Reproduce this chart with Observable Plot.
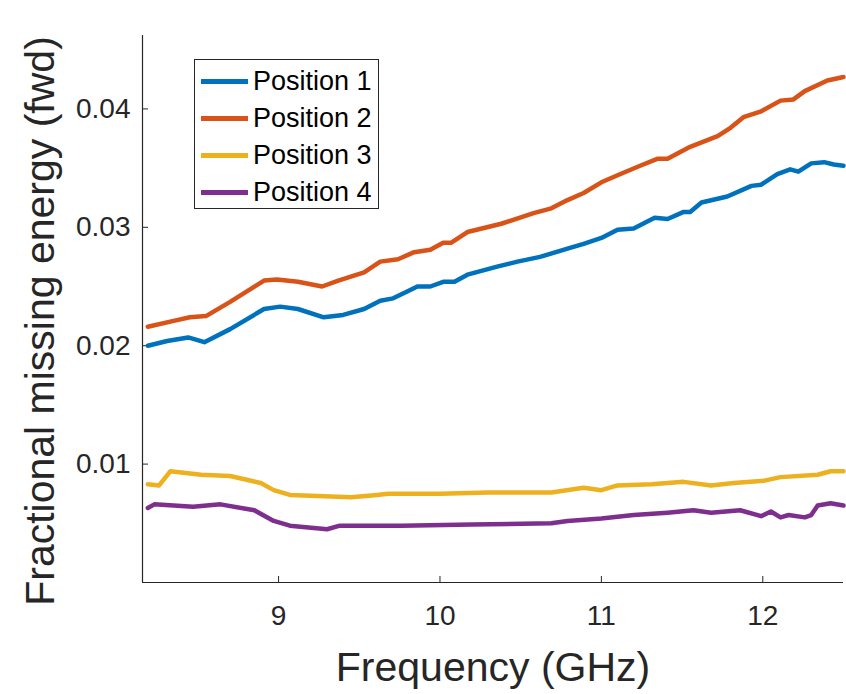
<!DOCTYPE html>
<html><head><meta charset="utf-8">
<script src="https://cdn.jsdelivr.net/npm/d3@7"></script>
<script src="https://cdn.jsdelivr.net/npm/@observablehq/plot@0.6"></script>
<style>
body{margin:0;background:#fff;}
#wrap{position:relative;width:846px;height:694px;font-family:"Liberation Sans",Arial,sans-serif;}
#legend{position:absolute;left:194px;top:59px;width:185px;height:150px;border:1px solid #262626;background:#fff;box-sizing:border-box;}
.row{position:absolute;left:0;height:30px;display:flex;align-items:center;}
.sw{width:47px;height:5px;margin-left:6px;margin-right:5px;}
.lab{font-size:27px;color:#000;line-height:30px;}
</style></head><body><div id="wrap"></div>
<script>
const seriesNames = ["Position 1", "Position 2", "Position 3", "Position 4"];
const seriesColors = ["#0072BD", "#D95319", "#EDB120", "#7E2F8E"];
const xTicks = [9, 10, 11, 12];
const yTicks = [0.01, 0.02, 0.03, 0.04];
const xDomain = [8.157, 12.5];
const yDomain = [0, 0.0462];

const freqP1 = [8.19,8.31,8.44,8.54,8.70,8.91,9.01,9.12,9.28,9.40,9.53,9.63,9.71,9.80,9.86,9.94,10.02,10.09,10.17,10.36,10.48,10.62,10.79,10.89,11.00,11.10,11.20,11.33,11.41,11.51,11.55,11.62,11.78,11.93,11.99,12.09,12.17,12.22,12.30,12.38,12.44,12.50];
const valP1 = [0.0200,0.0204,0.0207,0.0203,0.0214,0.0231,0.0233,0.0231,0.0224,0.0226,0.0231,0.0238,0.0240,0.0246,0.0250,0.0250,0.0254,0.0254,0.0260,0.0267,0.0271,0.0275,0.0282,0.0286,0.0291,0.0298,0.0299,0.0308,0.0307,0.0313,0.0313,0.0321,0.0326,0.0335,0.0336,0.0345,0.0349,0.0347,0.0354,0.0355,0.0353,0.0352];

const freqP2 = [8.19,8.35,8.45,8.55,8.70,8.91,8.99,9.12,9.27,9.37,9.53,9.63,9.74,9.84,9.94,10.02,10.07,10.17,10.38,10.58,10.69,10.79,10.89,11.00,11.10,11.24,11.35,11.41,11.55,11.72,11.80,11.88,11.99,12.11,12.19,12.26,12.40,12.50];
const valP2 = [0.0216,0.0221,0.0224,0.0225,0.0237,0.0255,0.0256,0.0254,0.0250,0.0255,0.0262,0.0271,0.0273,0.0279,0.0281,0.0287,0.0287,0.0296,0.0303,0.0312,0.0316,0.0323,0.0329,0.0338,0.0344,0.0352,0.0358,0.0358,0.0368,0.0377,0.0384,0.0393,0.0398,0.0407,0.0408,0.0415,0.0424,0.0427];

const freqP3 = [8.19,8.26,8.33,8.52,8.70,8.89,8.97,9.07,9.24,9.45,9.61,9.68,9.76,10.00,10.30,10.69,10.89,11.00,11.10,11.31,11.51,11.68,11.82,12.01,12.11,12.34,12.42,12.50];
const valP3 = [0.0083,0.0082,0.0094,0.0091,0.0090,0.0084,0.0078,0.0074,0.0073,0.0072,0.0074,0.0075,0.0075,0.0075,0.0076,0.0076,0.0080,0.0078,0.0082,0.0083,0.0085,0.0082,0.0084,0.0086,0.0089,0.0091,0.0094,0.0094];

const freqP4 = [8.19,8.23,8.47,8.64,8.85,8.97,9.07,9.30,9.38,9.55,9.76,10.20,10.69,10.79,11.00,11.20,11.41,11.57,11.68,11.86,11.99,12.05,12.11,12.16,12.26,12.30,12.34,12.42,12.50];
const valP4 = [0.0063,0.0066,0.0064,0.0066,0.0061,0.0052,0.0048,0.0045,0.0048,0.0048,0.0048,0.0049,0.0050,0.0052,0.0054,0.0057,0.0059,0.0061,0.0059,0.0061,0.0056,0.0060,0.0055,0.0057,0.0055,0.0057,0.0065,0.0067,0.0065];

const freqs = [freqP1, freqP2, freqP3, freqP4];
const vals = [valP1, valP2, valP3, valP4];
const rows = [];
seriesNames.forEach((name, i) => {
  freqs[i].forEach((f, j) => rows.push({series: name, freq: f, value: vals[i][j]}));
});

const axisColor = "#262626";
const chart = Plot.plot({
  width: 846,
  height: 694,
  marginLeft: 142,
  marginRight: 3,
  marginTop: 35,
  marginBottom: 112,
  style: {fontFamily: '"Liberation Sans", Arial, sans-serif', color: axisColor, background: "#fff", overflow: "visible"},
  x: {domain: xDomain},
  y: {domain: yDomain},
  color: {domain: seriesNames, range: seriesColors},
  marks: [
    Plot.ruleY([yDomain[0]], {stroke: axisColor, strokeWidth: 1.2}),
    Plot.ruleX([xDomain[0]], {stroke: axisColor, strokeWidth: 1.2}),
    Plot.axisX({ticks: xTicks, tickSize: -6, tickPadding: 29, fontSize: 28, label: null, tickFormat: d => String(d), stroke: axisColor, fill: axisColor}),
    Plot.axisY({ticks: yTicks, tickSize: -6, tickPadding: 18, fontSize: 28, label: null, tickFormat: d3.format(".2f"), stroke: axisColor, fill: axisColor}),
    Plot.line(rows, {x: "freq", y: "value", z: "series", stroke: "series", strokeWidth: 4.5, strokeLinejoin: "round", strokeLinecap: "round"}),
    Plot.text(["Frequency (GHz)"], {frameAnchor: "bottom", dy: 98, fontSize: 41, fill: axisColor}),
    Plot.text(["Fractional missing energy (fwd)"], {frameAnchor: "left", textAnchor: "middle", lineAnchor: "middle", rotate: -90, dx: -102, dy: 12, fontSize: 41, fill: axisColor})
  ]
});
const wrap = document.getElementById("wrap");
wrap.appendChild(chart);

const legend = document.createElement("div");
legend.id = "legend";
const rowCenters = [21, 58, 95, 132];
seriesNames.forEach((name, i) => {
  const r = document.createElement("div");
  r.className = "row";
  r.style.top = (rowCenters[i] - 15) + "px";
  const sw = document.createElement("div");
  sw.className = "sw";
  sw.style.background = seriesColors[i];
  const lab = document.createElement("span");
  lab.className = "lab";
  lab.textContent = name;
  r.appendChild(sw); r.appendChild(lab);
  legend.appendChild(r);
});
wrap.appendChild(legend);
</script>
</body></html>
